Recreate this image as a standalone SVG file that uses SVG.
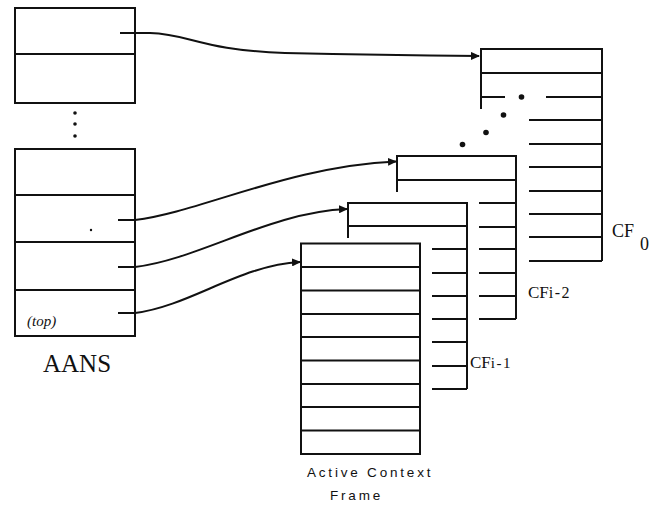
<svg xmlns="http://www.w3.org/2000/svg" width="655" height="507" viewBox="0 0 655 507">
  <style>
    .ln { stroke: #111; stroke-width: 2; fill: none; }
    .box { stroke: #111; stroke-width: 2; fill: #fff; }
    .wire { stroke: #111; stroke-width: 2; fill: none; }
    .dot { fill: #111; }
    .serif { font-family: "Liberation Serif", "DejaVu Serif", serif; fill: #111; }
    .mono { font-family: "Liberation Sans", "DejaVu Sans", sans-serif; fill: #111; }
  </style>
  <defs>
    <marker id="arrow" markerWidth="9" markerHeight="8" refX="8" refY="4" orient="auto" markerUnits="userSpaceOnUse">
      <path d="M0,0 L9,4 L0,8 z" fill="#111"/>
    </marker>
  </defs>
  <rect width="655" height="507" fill="#fff"/>

  <!-- AANS stack: upper slots -->
  <g id="aans-upper">
    <rect class="box" x="15" y="8" width="120" height="95"/>
    <line class="ln" x1="15" y1="54" x2="135" y2="54"/>
  </g>
  <g id="aans-ellipsis">
    <circle class="dot" cx="75" cy="113" r="1.8"/>
    <circle class="dot" cx="75" cy="124" r="1.8"/>
    <circle class="dot" cx="75" cy="136" r="1.8"/>
  </g>
  <!-- AANS stack: lower slots -->
  <g id="aans-lower">
    <rect class="box" x="15" y="149" width="120" height="187"/>
    <line class="ln" x1="15" y1="195" x2="135" y2="195"/>
    <line class="ln" x1="15" y1="242" x2="135" y2="242"/>
    <line class="ln" x1="15" y1="290" x2="135" y2="290"/>
    <circle class="dot" cx="91" cy="230" r="1.2"/>
    <text class="serif" x="27" y="326" font-size="15" font-style="italic">(top)</text>
    <text class="serif" x="43" y="372" font-size="25">AANS</text>
  </g>

  <!-- CF0 -->
  <g id="cf0">
    <rect class="box" x="481" y="49" width="121" height="24"/>
    <line class="ln" x1="602" y1="73" x2="602" y2="261"/>
    <line class="ln" x1="481" y1="73" x2="481" y2="109"/>
    <line class="ln" x1="481" y1="97" x2="505" y2="97"/>
    <line class="ln" x1="546" y1="97" x2="602" y2="97"/>
    <line class="ln" x1="529" y1="120" x2="602" y2="120"/>
    <line class="ln" x1="529" y1="144" x2="602" y2="144"/>
    <line class="ln" x1="529" y1="167" x2="602" y2="167"/>
    <line class="ln" x1="529" y1="191" x2="602" y2="191"/>
    <line class="ln" x1="529" y1="214" x2="602" y2="214"/>
    <line class="ln" x1="529" y1="237" x2="602" y2="237"/>
    <line class="ln" x1="529" y1="261" x2="602" y2="261"/>
    <circle class="dot" cx="521.5" cy="97" r="2.8"/>
    <circle class="dot" cx="503.5" cy="115" r="2.8"/>
    <circle class="dot" cx="486" cy="132.5" r="2.8"/>
    <circle class="dot" cx="462.5" cy="144.5" r="2.8"/>
    <text class="serif" x="612" y="237" font-size="18">CF<tspan x="640" y="250">0</tspan></text>
  </g>

  <!-- CFi-2 -->
  <g id="cf-i-2">
    <line class="ln" x1="397" y1="156" x2="516" y2="156"/>
    <line class="ln" x1="397" y1="180" x2="516" y2="180"/>
    <line class="ln" x1="397" y1="155" x2="397" y2="192"/>
    <line class="ln" x1="516" y1="155" x2="516" y2="319"/>
    <line class="ln" x1="479" y1="203" x2="516" y2="203"/>
    <line class="ln" x1="479" y1="227" x2="516" y2="227"/>
    <line class="ln" x1="479" y1="249" x2="516" y2="249"/>
    <line class="ln" x1="479" y1="273" x2="516" y2="273"/>
    <line class="ln" x1="479" y1="296" x2="516" y2="296"/>
    <line class="ln" x1="479" y1="319" x2="516" y2="319"/>
    <text class="serif" x="528" y="298" font-size="17">CF<tspan font-size="16" letter-spacing="1.5">i-2</tspan></text>
  </g>

  <!-- CFi-1 -->
  <g id="cf-i-1">
    <line class="ln" x1="348" y1="203" x2="467" y2="203"/>
    <line class="ln" x1="348" y1="226" x2="467" y2="226"/>
    <line class="ln" x1="348" y1="202" x2="348" y2="238"/>
    <line class="ln" x1="467" y1="202" x2="467" y2="389"/>
    <line class="ln" x1="432" y1="249" x2="467" y2="249"/>
    <line class="ln" x1="432" y1="273" x2="467" y2="273"/>
    <line class="ln" x1="432" y1="296" x2="467" y2="296"/>
    <line class="ln" x1="432" y1="319" x2="467" y2="319"/>
    <line class="ln" x1="432" y1="342" x2="467" y2="342"/>
    <line class="ln" x1="432" y1="366" x2="467" y2="366"/>
    <line class="ln" x1="432" y1="389" x2="467" y2="389"/>
    <text class="serif" x="470" y="368" font-size="17">CF<tspan font-size="15" letter-spacing="1.5">i-1</tspan></text>
  </g>

  <!-- Active context frame -->
  <g id="active-context-frame">
    <rect class="box" x="301" y="243.5" width="119" height="210.5"/>
    <line class="ln" x1="301" y1="267" x2="420" y2="267"/>
    <line class="ln" x1="301" y1="290.5" x2="420" y2="290.5"/>
    <line class="ln" x1="301" y1="314" x2="420" y2="314"/>
    <line class="ln" x1="301" y1="337" x2="420" y2="337"/>
    <line class="ln" x1="301" y1="360.5" x2="420" y2="360.5"/>
    <line class="ln" x1="301" y1="384" x2="420" y2="384"/>
    <line class="ln" x1="301" y1="407" x2="420" y2="407"/>
    <line class="ln" x1="301" y1="430.5" x2="420" y2="430.5"/>
    <text class="mono" x="307" y="477" font-size="13.5" letter-spacing="2.8">Active Context</text>
    <text class="mono" x="330" y="500" font-size="13.5" letter-spacing="2.8">Frame</text>
  </g>

  <!-- links from AANS slots to context frames -->
  <g id="connectors">
    <path class="wire" marker-end="url(#arrow)" d="M120,33 H150 C190,34 200,50 285,53 Q380,55 479,56"/>
    <path class="wire" marker-end="url(#arrow)" d="M118,220 H135 C200,212 290,166 396,161.5"/>
    <path class="wire" marker-end="url(#arrow)" d="M118,267 H135 C200,259 270,212 347,209"/>
    <path class="wire" marker-end="url(#arrow)" d="M118,313 H135 C190,306 240,265 300,262"/>
  </g>
</svg>
